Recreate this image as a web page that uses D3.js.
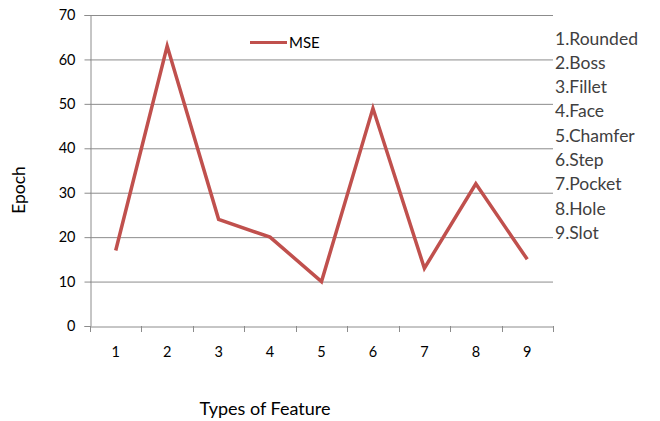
<!DOCTYPE html>
<html><head><meta charset="utf-8">
<script src="https://cdn.jsdelivr.net/npm/d3@7"></script>
<style>body{margin:0;background:#fff}svg{display:block}text{font-family:Lato,"Open Sans",sans-serif}</style>
</head><body><svg id="c" width="660" height="421"></svg>
<script>
const categories = ["1","2","3","4","5","6","7","8","9"];
const mse = [17, 63, 24, 20, 10, 49, 13, 32, 15];
const yTicks = [0,10,20,30,40,50,60,70];
const featureLabels = ["1.Rounded","2.Boss","3.Fillet","4.Face","5.Chamfer","6.Step","7.Pocket","8.Hole","9.Slot"];

const svg = d3.select("#c");
const L = 90, R = 553, T = 15, B = 326;
const x = d3.scaleBand().domain(categories).range([L, R]);
const y = d3.scaleLinear().domain([0,70]).range([B, T]);

// gridlines
svg.append("g").selectAll("line").data(yTicks.filter(d=>d>0)).join("line")
  .attr("x1", L).attr("x2", R).attr("y1", d=>y(d)+0.5).attr("y2", d=>y(d)+0.5)
  .attr("stroke", "#8c8c8c").attr("stroke-width", 1);

// y axis
const ya = svg.append("g").attr("transform", `translate(${L+0.5},0)`)
  .call(d3.axisLeft(y).tickValues(yTicks).tickSize(6).tickPadding(9));
ya.select(".domain").attr("stroke", "#8c8c8c");
ya.selectAll(".tick line").attr("stroke", "#8c8c8c");
ya.selectAll(".tick text").attr("font-size", 14.5).attr("fill", "#000");

// x axis
const xa = svg.append("g").attr("transform", `translate(0,${B+0.5})`)
  .call(d3.axisBottom(x).tickSize(0).tickPadding(20));
xa.select(".domain").attr("stroke", "#8c8c8c");
xa.selectAll(".tick text").attr("font-size", 14.5).attr("fill", "#000");
svg.append("g").selectAll("line").data(d3.range(categories.length+1)).join("line")
  .attr("x1", i => Math.round(L + i*x.step())+0.5).attr("x2", i => Math.round(L + i*x.step())+0.5)
  .attr("y1", B).attr("y2", B+6).attr("stroke", "#8c8c8c");

// line
svg.append("path").datum(mse)
  .attr("fill","none").attr("stroke","#C0504D").attr("stroke-width",3.5).attr("stroke-linejoin","miter")
  .attr("d", d3.line().x((d,i)=>x(categories[i])+x.bandwidth()/2).y(d=>y(d)));

// legend
svg.append("line").attr("x1",250).attr("x2",287).attr("y1",42.5).attr("y2",42.5)
  .attr("stroke","#C0504D").attr("stroke-width",3);
svg.append("text").attr("x",289).attr("y",48).attr("font-size",15).text("MSE");

// feature labels
svg.append("g").selectAll("text").data(featureLabels).join("text")
  .attr("x", 555).attr("y", (d,i)=>44.5 + i*24.3)
  .attr("font-size", 17.5).attr("fill","#404040").text(d=>d);

// axis titles
svg.append("text").attr("transform","translate(25,190) rotate(-90)")
  .attr("text-anchor","middle").attr("font-size",17.5).text("Epoch");
svg.append("text").attr("x",265).attr("y",415).attr("text-anchor","middle")
  .attr("font-size",18).text("Types of Feature");
</script></body></html>
